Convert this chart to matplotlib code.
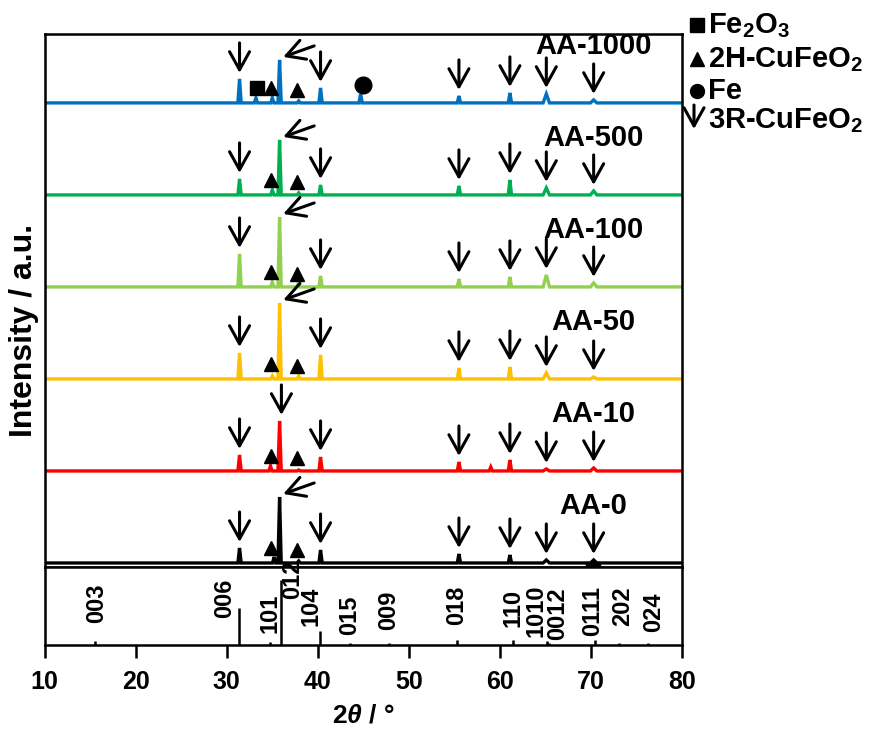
import matplotlib
matplotlib.use('Agg')
import matplotlib.pyplot as plt
from matplotlib.lines import Line2D
from matplotlib.patches import FancyArrowPatch

plt.rcParams.update({
    'font.family': ['Liberation Sans', 'DejaVu Sans'],
    'font.weight': 'bold',
    'mathtext.fontset': 'custom',
    'mathtext.rm': 'Liberation Sans:bold',
    'mathtext.bf': 'Liberation Sans:bold',
    'mathtext.it': 'Liberation Sans:bold:italic',
    'mathtext.default': 'rm',
})

# XRD patterns, bottom to top (peak position in 2theta, peak height in a.u.)
samples = ['AA-0', 'AA-10', 'AA-50', 'AA-100', 'AA-500', 'AA-1000']
colors = ['#000000', '#FF0000', '#FFC000', '#92D050', '#00B050', '#0070C0']

pos_aa0 = [31.4, 35.2, 35.8, 37.9, 40.3, 55.5, 61.1, 65.1, 70.3]
h_aa0 = [15, 6, 66, 2, 13, 9, 8, 3, 3]
pos_aa10 = [31.4, 34.8, 35.8, 37.9, 40.3, 55.5, 59.0, 61.1, 65.1, 70.3]
h_aa10 = [16, 5, 50, 1, 14, 9, 4, 11, 2, 3]
pos_aa50 = [31.4, 35.0, 35.8, 37.9, 40.3, 55.5, 61.1, 65.1, 70.3]
h_aa50 = [26, 3, 76, 3, 24, 11, 12, 6, 2]
pos_aa100 = [31.4, 35.0, 35.8, 37.9, 40.3, 55.5, 61.1, 65.1, 70.3]
h_aa100 = [33, 5, 70, 5, 11, 8, 10, 12, 4]
pos_aa500 = [31.4, 35.0, 35.8, 37.9, 40.3, 55.5, 61.1, 65.1, 70.3]
h_aa500 = [16, 5, 55, 2, 10, 9, 15, 7, 4]
pos_aa1000 = [31.4, 33.2, 35.0, 35.8, 37.9, 40.3, 44.7, 55.5, 61.1, 65.1, 70.3]
h_aa1000 = [24, 5, 5, 43, 2, 15, 9, 7, 10, 9, 3]

patterns = [(pos_aa0, h_aa0), (pos_aa10, h_aa10), (pos_aa50, h_aa50),
            (pos_aa100, h_aa100), (pos_aa500, h_aa500), (pos_aa1000, h_aa1000)]

# 3R-CuFeO2 reflections marked with arrows, main (012) reflection
r3_marked = [31.4, 40.3, 55.5, 61.1, 65.1, 70.3]
r3_main = 35.8

# reference pattern of 3R-CuFeO2
ref_pos = [15.5, 31.35, 34.7, 35.9, 40.25, 43.5, 47.8, 55.3, 61.45, 65.2, 65.4, 70.5, 73.1, 76.3]
ref_int = [0.05, 0.48, 0.04, 0.83, 0.18, 0.02, 0.03, 0.06, 0.06, 0.05, 0.03, 0.06, 0.03, 0.02]
ref_hkl = ['003', '006', '101', '012', '104', '015', '009', '018', '110', '1010', '0012', '0111', '202', '024']

# where the hkl labels sit
hkl_x = [15.7, 29.75, 34.7, 37.2, 39.2, 43.5, 47.8, 55.3, 61.45, 64.0, 66.3, 70.2, 73.5, 76.9]
hkl_y = [0.53, 0.6, 0.4, 0.84, 0.5, 0.38, 0.45, 0.51, 0.47, 0.44, 0.4, 0.43, 0.5, 0.42]

offset = 92
arrow_style = '->,head_length=0.65,head_width=0.36'


def build_trace(pos, h):
    x = [10.0]
    y = [0.0]
    for p, hh in sorted(zip(pos, h)):
        w = 0.35 if p > 64 else 0.18
        x += [p - w, p, p + w]
        y += [0, hh, 0]
    x.append(80.0)
    y.append(0.0)
    return x, y


def arrow(ax, tip, tail):
    ax.annotate('', xy=tip, xytext=tail,
                arrowprops=dict(arrowstyle=arrow_style, lw=2.2, color='black',
                                mutation_scale=20, shrinkA=0, shrinkB=0))


fig = plt.figure(figsize=(8.77, 7.37), dpi=100)
ax = fig.add_axes([0.051, 0.2307, 0.7266, 0.7233])
ax2 = fig.add_axes([0.051, 0.1249, 0.7266, 0.1058])

for i, (name, col, (pos, h)) in enumerate(zip(samples, colors, patterns)):
    base = i * offset
    x, y = build_trace(pos, h)
    ax.plot(x, [v + base for v in y], color=col, lw=2.4, solid_joinstyle='miter')
    ax.text(70.3, base + 49, name, ha='center', va='baseline', fontsize=21, fontweight='bold')

    heights = dict(zip(pos, h))
    for p in r3_marked:
        tip = base + heights[p] + 6
        arrow(ax, (p, tip), (p, tip + 30))
    hm = heights[r3_main]
    if name == 'AA-10':
        arrow(ax, (r3_main + 0.2, base + hm + 6), (r3_main + 0.2, base + hm + 36))
    else:
        arrow(ax, (r3_main + 0.4, base + hm + 3), (r3_main + 3.8, base + hm + 14))
    # 2H-CuFeO2 reflections
    ax.plot([34.9, 37.7], [base + 15, base + 13], ls='none', marker='^',
            color='black', ms=9.5)

top = (len(samples) - 1) * offset
ax.plot(33.3, top + 15, ls='none', marker='s', color='black', ms=9.5)
ax.plot(45.0, top + 18, ls='none', marker='o', color='black', ms=12)
ax.plot(70.2, -6, ls='none', marker='s', color='black', ms=10)

ax.set_xlim(10, 80)
ax.set_ylim(-4, 529)
ax.set_xticks([])
ax.set_yticks([])
for s in ax.spines.values():
    s.set_linewidth(1.8)

# reference sticks
ax2.vlines(ref_pos, 0, ref_int, color='black', lw=1.8)
for hx, hy, lab in zip(hkl_x, hkl_y, ref_hkl):
    ax2.text(hx, hy, lab, rotation=90, ha='center', va='center', fontsize=17, fontweight='bold')
ax2.set_xlim(10, 80)
ax2.set_ylim(0, 1)
ax2.set_yticks([])
ax2.set_xticks(range(10, 81, 10))
ax2.tick_params(axis='x', direction='out', length=9, width=1.8, labelsize=18, pad=9)
for s in ax2.spines.values():
    s.set_linewidth(1.8)
ax2.set_xlabel(r'$\mathit{2\theta}$ / °', fontsize=19, fontweight='bold', labelpad=7)

fig.text(0.027, 1 - 330 / 737, 'Intensity / a.u.', rotation=90, ha='center', va='center',
         fontsize=23, fontweight='bold')

# legend outside the axes
leg_x = 708 / 877
rows = [(33, 's', 10, 'Fe$_2$O$_3$'), (67, '^', 10, '2H-CuFeO$_2$'), (99, 'o', 10, 'Fe')]
for yb, mk, ms, lab in rows:
    fig.add_artist(Line2D([697 / 877], [1 - (yb - 8) / 737], marker=mk, ms=ms,
                          color='black', ls='none', transform=fig.transFigure))
    fig.text(leg_x, 1 - yb / 737, lab, ha='left', va='baseline', fontsize=21, fontweight='bold')
fig.text(leg_x, 1 - 128 / 737, '3R-CuFeO$_2$', ha='left', va='baseline', fontsize=21, fontweight='bold')
fig.add_artist(FancyArrowPatch(
    (694 / 877, 1 - 105 / 737), (694 / 877, 1 - 129 / 737), transform=fig.transFigure,
    arrowstyle=arrow_style, lw=2.2, color='black', mutation_scale=20, shrinkA=0, shrinkB=0))

fig.savefig('out.png', dpi=100)
